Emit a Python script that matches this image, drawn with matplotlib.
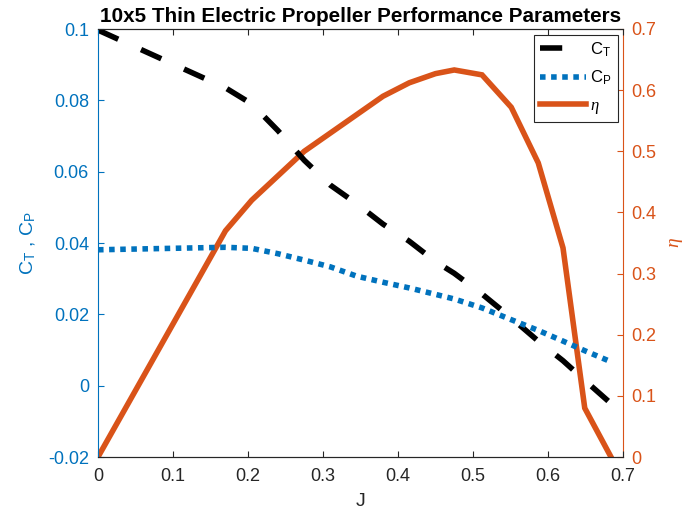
import matplotlib
matplotlib.use("Agg")
import matplotlib.pyplot as plt
from matplotlib.ticker import FuncFormatter, MultipleLocator

plt.rcParams['font.family'] = ['Liberation Sans', 'DejaVu Sans']
plt.rcParams['mathtext.fontset'] = 'custom'
plt.rcParams['mathtext.rm'] = 'Liberation Sans'
plt.rcParams['mathtext.it'] = 'Liberation Serif:italic'

J = [0.0, 0.17, 0.205, 0.24, 0.275, 0.31, 0.345, 0.38, 0.415, 0.45,
     0.475, 0.512, 0.551, 0.587, 0.62, 0.649, 0.684]
CT = [0.0997, 0.0835, 0.0790, 0.0715, 0.0632, 0.0562, 0.0510, 0.0453, 0.0405,
      0.0348, 0.0315, 0.0257, 0.0190, 0.0125, 0.0070, 0.0015, -0.0050]
CP = [0.0381, 0.0388, 0.0385, 0.0370, 0.0352, 0.0333, 0.0307, 0.0290, 0.0274,
      0.0256, 0.0243, 0.0218, 0.0185, 0.0155, 0.0125, 0.0098, 0.0067]
ETA = [0.0, 0.37, 0.42, 0.46, 0.50, 0.53, 0.56, 0.59, 0.612, 0.627,
       0.633, 0.625, 0.572, 0.481, 0.342, 0.08, 0.0]

TITLE = "10x5 Thin Electric Propeller Performance Parameters"

BLUE = '#0072BD'
ORANGE = '#D95319'
GRAY = '#262626'

fig = plt.figure(figsize=(6.86, 5.2), dpi=100)
ax = fig.add_axes([98/686, 1-457/520, 525/686, 428/520])
ax2 = ax.twinx()
ax.set_zorder(ax2.get_zorder() + 1)
ax.patch.set_visible(False)

lw = 4
l_eta, = ax2.plot(J, ETA, color=ORANGE, lw=lw, solid_joinstyle='miter', label=r'$\eta$')
l_ct, = ax.plot(J, CT, color='black', lw=lw, dashes=(4, 4.5), dash_capstyle='butt',
                label=r'C$_\mathregular{T}$')
l_cp, = ax.plot(J, CP, color=BLUE, lw=lw, dashes=(1, 1), dash_capstyle='butt',
                label=r'C$_\mathregular{P}$')

ax.set_xlim(0, 0.7)
ax.set_ylim(-0.02, 0.1)
ax2.set_ylim(0, 0.7)

fmt = FuncFormatter(lambda v, p: ('%g' % round(v, 6)))
ax.xaxis.set_major_locator(MultipleLocator(0.1))
ax.yaxis.set_major_locator(MultipleLocator(0.02))
ax2.yaxis.set_major_locator(MultipleLocator(0.1))
ax.xaxis.set_major_formatter(fmt)
ax.yaxis.set_major_formatter(fmt)
ax2.yaxis.set_major_formatter(fmt)

fs = 13
ax.tick_params(axis='x', direction='in', top=True, length=4, colors=GRAY, labelsize=fs,
               width=0.8, pad=8)
ax.tick_params(axis='y', direction='in', length=4, colors=BLUE, labelsize=fs, width=0.8, pad=6.5)
ax2.tick_params(axis='y', direction='in', length=4, colors=ORANGE, labelsize=fs, width=0.8, pad=6)
ax2.tick_params(axis='x', top=False, bottom=False)

for a in (ax, ax2):
    a.spines['top'].set_color(GRAY)
    a.spines['bottom'].set_color(GRAY)
    a.spines['left'].set_color(BLUE)
    a.spines['right'].set_color(ORANGE)
    for s in a.spines.values():
        s.set_linewidth(0.8)
ax.spines['right'].set_visible(False)
ax2.spines['left'].set_visible(False)

ax.set_xlabel('J', fontsize=14, color=GRAY, labelpad=6)
ax.set_ylabel(r'C$_\mathregular{T}$ , C$_\mathregular{P}$', fontsize=14, color=BLUE, labelpad=7)
ax2.set_ylabel(r'$\eta$', fontsize=14, color=ORANGE, rotation=90, labelpad=8.5)

ax.set_title(TITLE, fontsize=14.9, fontweight='bold', color='black', pad=5)

leg = ax.legend(handles=[l_ct, l_cp, l_eta], loc='upper right', fontsize=12,
                frameon=True, fancybox=False, edgecolor=GRAY, framealpha=1,
                handlelength=2.75, borderaxespad=0.33, borderpad=0.35,
                handletextpad=0.25, labelspacing=0.62)
leg.get_frame().set_linewidth(0.8)

fig.savefig('out.png', dpi=100)
